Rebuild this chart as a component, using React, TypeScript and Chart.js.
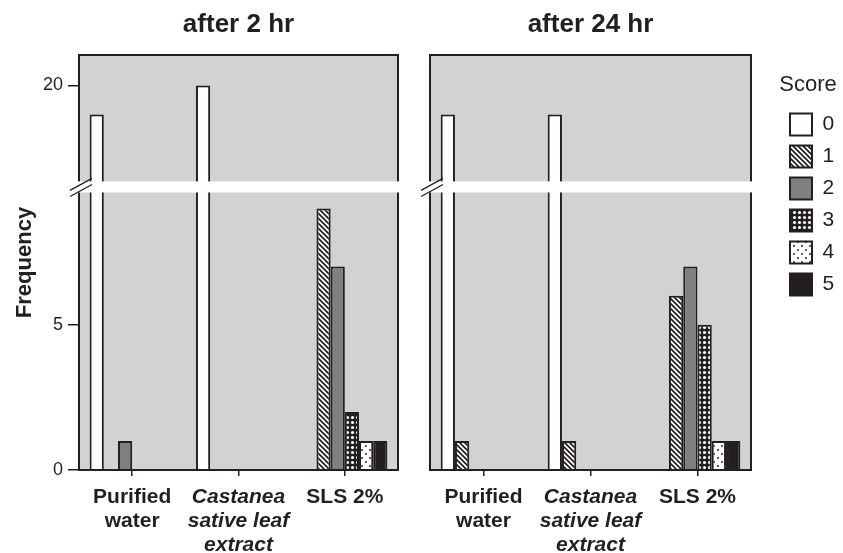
import React, { useEffect, useRef } from 'react';
import { Chart, registerables } from 'chart.js';

Chart.register(...registerables);

// ---------------- data ----------------
const CATEGORIES = [['Purified', 'water'], ['Castanea', 'sative leaf', 'extract'], ['SLS 2%']];
const SCORES = ['0', '1', '2', '3', '4', '5'];
const Y_TICKS = [0, 5, 20];
const PANEL_TITLES = ['after 2 hr', 'after 24 hr'];
const LEGEND_TITLE = 'Score';
const Y_TITLE = 'Frequency';

// frequency of each score (rows: score 0..5) per category (columns)
const AFTER_2HR = [
  [19, 20, 0],
  [0, 0, 9],
  [1, 0, 7],
  [0, 0, 2],
  [0, 0, 1],
  [0, 0, 1],
];
const AFTER_24HR = [
  [19, 19, 0],
  [1, 1, 6],
  [0, 0, 7],
  [0, 0, 5],
  [0, 0, 1],
  [0, 0, 1],
];

// ---------------- broken axis ----------------
const LOWER_MAX = 9.55;
const GAP = 0.38;
const UPPER_MIN = 16.7;
const UPPER_MAX = 21.05;
const toDisplay = (v: number) => (v <= LOWER_MAX ? v : v - UPPER_MIN + LOWER_MAX + GAP);
const fromDisplay = (d: number) => (d <= LOWER_MAX ? d : d + UPPER_MIN - LOWER_MAX - GAP);
const DISPLAY_MAX = toDisplay(UPPER_MAX);

// ---------------- style ----------------
const FONT = "'Liberation Sans', Arial, Helvetica, sans-serif";
const INK = '#231f20';
const PANEL_BG = '#d2d2d2';

function tile(size: number, draw: (g: CanvasRenderingContext2D) => void) {
  const c = document.createElement('canvas');
  c.width = size;
  c.height = size;
  const g = c.getContext('2d')!;
  draw(g);
  return c;
}

function makeFills(ctx: CanvasRenderingContext2D) {
  const hatch = tile(5, (g) => {
    g.fillStyle = '#fff';
    g.fillRect(0, 0, 5, 5);
    g.strokeStyle = INK;
    g.lineWidth = 1.7;
    g.beginPath();
    g.moveTo(-1, -1);
    g.lineTo(6, 6);
    g.moveTo(-1, 4);
    g.lineTo(1, 6);
    g.moveTo(4, -1);
    g.lineTo(6, 1);
    g.stroke();
  });
  const dense = tile(5, (g) => {
    g.fillStyle = INK;
    g.fillRect(0, 0, 5, 5);
    g.fillStyle = '#fff';
    g.beginPath();
    g.arc(2.5, 2.5, 1.55, 0, Math.PI * 2);
    g.fill();
  });
  const sparse = tile(8, (g) => {
    g.fillStyle = '#fff';
    g.fillRect(0, 0, 8, 8);
    g.fillStyle = INK;
    g.beginPath();
    g.arc(2, 2, 0.95, 0, Math.PI * 2);
    g.arc(6, 6, 0.95, 0, Math.PI * 2);
    g.fill();
  });
  return [
    '#ffffff',
    ctx.createPattern(hatch, 'repeat'),
    '#808080',
    ctx.createPattern(dense, 'repeat'),
    ctx.createPattern(sparse, 'repeat'),
    INK,
  ];
}

const framePlugin = {
  id: 'panelFrame',
  beforeDatasetsDraw(chart: any) {
    const { ctx, chartArea } = chart;
    const { left, top, right, bottom } = chartArea;
    ctx.save();
    ctx.fillStyle = PANEL_BG;
    ctx.fillRect(left, top, right - left, bottom - top);
    ctx.restore();
  },
  afterDatasetsDraw(chart: any) {
    const { ctx, chartArea } = chart;
    const { left, top, right, bottom } = chartArea;
    const y = chart.scales.y;
    ctx.save();
    ctx.strokeStyle = INK;
    ctx.lineWidth = 2;
    ctx.strokeRect(left, top, right - left, bottom - top);
    const yA = y.getPixelForValue(LOWER_MAX + GAP);
    const yB = y.getPixelForValue(LOWER_MAX);
    ctx.fillStyle = '#ffffff';
    ctx.fillRect(left - 2, yA, right - left + 4, yB - yA);
    ctx.lineWidth = 1.3;
    ctx.beginPath();
    ctx.moveTo(left - 9, yA + 9);
    ctx.lineTo(left + 13, yA - 3);
    ctx.moveTo(left - 9, yB + 4);
    ctx.lineTo(left + 13, yB - 8);
    ctx.stroke();
    ctx.restore();
  },
};

const LEGEND_FIT_W = 92;
const legendPlacePlugin = {
  id: 'legendPlace',
  beforeLayout(chart: any) {
    const lg = chart.legend;
    if (lg && !lg.__patched) {
      const orig = lg.fit;
      lg.fit = function () {
        orig.call(this);
        if (this.isHorizontal && !this.isHorizontal()) this.width = LEGEND_FIT_W;
      };
      lg.__patched = true;
    }
  },
  afterLayout(chart: any) {
    const lg = chart.legend;
    if (!lg) return;
    lg.left = chart.chartArea.right + 29;
    lg.width = 56;
    lg.right = lg.left + lg.width;
  },
};

function buildChart(canvas: HTMLCanvasElement, idx: number) {
  const ctx = canvas.getContext('2d')!;
  const isLeft = idx === 0;
  const table = isLeft ? AFTER_2HR : AFTER_24HR;
  const fills = makeFills(ctx);
  return new Chart(ctx, {
    type: 'bar',
    data: {
      labels: CATEGORIES as any,
      datasets: SCORES.map((s, i) => ({
        label: s,
        data: table[i].map(toDisplay),
        backgroundColor: fills[i] as any,
        borderColor: INK,
        borderWidth: 2,
        categoryPercentage: 0.8,
        barPercentage: 1,
      })),
    },
    options: {
      responsive: false,
      animation: false,
      events: [],
      layout: {
        padding: isLeft ? { left: 0, right: 14, top: 0, bottom: 0 } : { left: 18, right: 0, top: 0, bottom: 0 },
      },
      scales: {
        x: {
          border: { display: false },
          grid: {
            display: true,
            drawOnChartArea: false,
            drawTicks: true,
            tickLength: 6,
            offset: false,
            color: INK,
            lineWidth: 1.5,
          },
          ticks: {
            color: INK,
            padding: 9,
            maxRotation: 0,
            minRotation: 0,
            autoSkip: false,
            font: (c: any) => ({
              family: FONT,
              size: 21,
              weight: 'bold',
              style: c.index === 1 ? 'italic' : 'normal',
              lineHeight: 1.15,
            }),
          },
          afterFit: (s: any) => {
            s.height = 83;
          },
        } as any,
        y: {
          display: isLeft,
          min: 0,
          max: DISPLAY_MAX,
          border: { display: false },
          grid: {
            display: true,
            drawOnChartArea: false,
            drawTicks: true,
            tickLength: 11,
            color: INK,
            lineWidth: 1.5,
          },
          afterBuildTicks: (s: any) => {
            s.ticks = Y_TICKS.map((v) => ({ value: toDisplay(v) }));
          },
          ticks: {
            color: INK,
            padding: 5,
            font: { family: FONT, size: 18 },
            callback: (v: any) => String(Math.round(fromDisplay(Number(v)))),
          },
          title: {
            display: true,
            text: Y_TITLE,
            color: INK,
            font: { family: FONT, size: 22, weight: 'bold' },
            padding: { top: 11.8, bottom: 0 },
          },
          afterFit: (s: any) => {
            if (isLeft) s.width = 79;
          },
        } as any,
      },
      plugins: {
        tooltip: { enabled: false },
        title: {
          display: true,
          text: PANEL_TITLES[idx],
          fullSize: false,
          color: INK,
          font: { family: FONT, size: 26, weight: 'bold', lineHeight: 1.2 },
          padding: { top: 9.4, bottom: 14.4 },
        },
        legend: isLeft
          ? { display: false }
          : {
              display: true,
              position: 'right',
              align: 'start',
              fullSize: false,
              labels: {
                boxWidth: 22,
                boxHeight: 22,
                padding: 10,
                color: INK,
                font: { family: FONT, size: 21 },
              },
              title: {
                display: true,
                text: LEGEND_TITLE,
                color: INK,
                font: { family: FONT, size: 22 },
                padding: { top: 19, bottom: 3 },
              },
            },
      } as any,
    },
    plugins: isLeft ? [framePlugin] : [framePlugin, legendPlacePlugin],
  } as any);
}

export default function App() {
  const leftRef = useRef<HTMLCanvasElement>(null);
  const rightRef = useRef<HTMLCanvasElement>(null);

  useEffect(() => {
    const charts: Chart[] = [];
    if (leftRef.current) charts.push(buildChart(leftRef.current, 0));
    if (rightRef.current) charts.push(buildChart(rightRef.current, 1));
    return () => charts.forEach((c) => c.destroy());
  }, []);

  return (
    <div style={{ position: 'absolute', left: 0, top: 0, width: 843, height: 553, background: '#fff', overflow: 'hidden' }}>
      <canvas ref={leftRef} width={412} height={553} style={{ position: 'absolute', left: 0, top: 0 }} />
      <canvas ref={rightRef} width={431} height={553} style={{ position: 'absolute', left: 412, top: 0 }} />
    </div>
  );
}
